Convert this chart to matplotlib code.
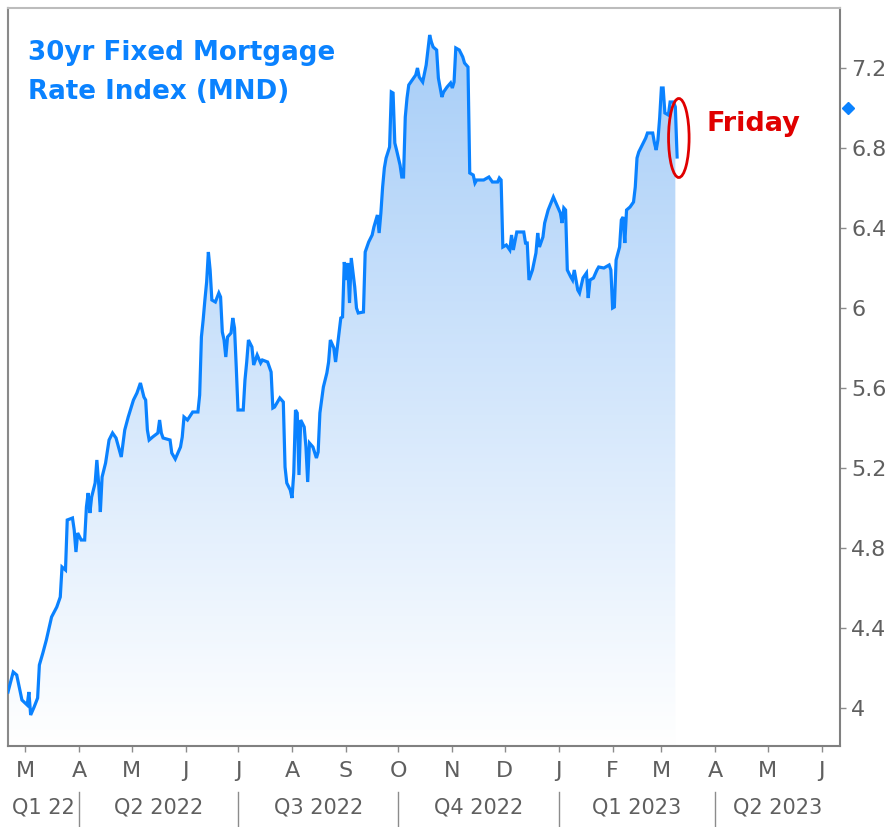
import numpy as np
import pandas as pd
import matplotlib
matplotlib.use("Agg")
import matplotlib.pyplot as plt
import matplotlib.dates as mdates
import matplotlib.transforms as mtransforms
from matplotlib.patches import Polygon, Ellipse
from matplotlib.colors import LinearSegmentedColormap

# daily MND 30yr fixed rate
dates = [
    "2022-02-19", "2022-02-22", "2022-02-24", "2022-02-27", "2022-03-02", "2022-03-03", "2022-03-04",
    "2022-03-06", "2022-03-08", "2022-03-09", "2022-03-11", "2022-03-13", "2022-03-16", "2022-03-19",
    "2022-03-21", "2022-03-22", "2022-03-24", "2022-03-25", "2022-03-28", "2022-03-29", "2022-03-30",
    "2022-03-31", "2022-04-02", "2022-04-04", "2022-04-05", "2022-04-06", "2022-04-07", "2022-04-08",
    "2022-04-10", "2022-04-11", "2022-04-12", "2022-04-13", "2022-04-14", "2022-04-16", "2022-04-18",
    "2022-04-20", "2022-04-22", "2022-04-25", "2022-04-27", "2022-04-29", "2022-05-02", "2022-05-04",
    "2022-05-06", "2022-05-08", "2022-05-09", "2022-05-10", "2022-05-11", "2022-05-13", "2022-05-16",
    "2022-05-17", "2022-05-18", "2022-05-19", "2022-05-23", "2022-05-24", "2022-05-26", "2022-05-29",
    "2022-05-30", "2022-05-31", "2022-06-02", "2022-06-05", "2022-06-08", "2022-06-09", "2022-06-10",
    "2022-06-11", "2022-06-12", "2022-06-13", "2022-06-14", "2022-06-15", "2022-06-16", "2022-06-18",
    "2022-06-20", "2022-06-21", "2022-06-22", "2022-06-23", "2022-06-24", "2022-06-25", "2022-06-27",
    "2022-06-28", "2022-06-29", "2022-06-30", "2022-07-01", "2022-07-04", "2022-07-05", "2022-07-06",
    "2022-07-07", "2022-07-09", "2022-07-10", "2022-07-12", "2022-07-14", "2022-07-15", "2022-07-18",
    "2022-07-20", "2022-07-21", "2022-07-22", "2022-07-25", "2022-07-27", "2022-07-28", "2022-07-29",
    "2022-07-31", "2022-08-01", "2022-08-02", "2022-08-03", "2022-08-04", "2022-08-05", "2022-08-06",
    "2022-08-08", "2022-08-09", "2022-08-10", "2022-08-11", "2022-08-13", "2022-08-15", "2022-08-16",
    "2022-08-17", "2022-08-18", "2022-08-19", "2022-08-21", "2022-08-22", "2022-08-23", "2022-08-25",
    "2022-08-26", "2022-08-28", "2022-08-29", "2022-08-30", "2022-08-31", "2022-09-01", "2022-09-02",
    "2022-09-03", "2022-09-04", "2022-09-06", "2022-09-07", "2022-09-08", "2022-09-11", "2022-09-12",
    "2022-09-14", "2022-09-16", "2022-09-17", "2022-09-19", "2022-09-20", "2022-09-21", "2022-09-22",
    "2022-09-23", "2022-09-24", "2022-09-26", "2022-09-27", "2022-09-28", "2022-09-29", "2022-09-30",
    "2022-10-02", "2022-10-03", "2022-10-04", "2022-10-05", "2022-10-06", "2022-10-07", "2022-10-09",
    "2022-10-11", "2022-10-12", "2022-10-13", "2022-10-15", "2022-10-17", "2022-10-19", "2022-10-20",
    "2022-10-21", "2022-10-23", "2022-10-24", "2022-10-26", "2022-10-27", "2022-10-29", "2022-10-31",
    "2022-11-01", "2022-11-02", "2022-11-03", "2022-11-05", "2022-11-07", "2022-11-08", "2022-11-10",
    "2022-11-11", "2022-11-13", "2022-11-14", "2022-11-15", "2022-11-19", "2022-11-22", "2022-11-24",
    "2022-11-27", "2022-11-28", "2022-11-29", "2022-11-30", "2022-12-02", "2022-12-04", "2022-12-05",
    "2022-12-06", "2022-12-08", "2022-12-12", "2022-12-13", "2022-12-14", "2022-12-15", "2022-12-17",
    "2022-12-19", "2022-12-20", "2022-12-21", "2022-12-23", "2022-12-24", "2022-12-26", "2022-12-29",
    "2022-12-31", "2023-01-02", "2023-01-03", "2023-01-04", "2023-01-05", "2023-01-06", "2023-01-08",
    "2023-01-09", "2023-01-10", "2023-01-12", "2023-01-13", "2023-01-15", "2023-01-17", "2023-01-18",
    "2023-01-19", "2023-01-21", "2023-01-23", "2023-01-24", "2023-01-27", "2023-01-30", "2023-01-31",
    "2023-02-01", "2023-02-02", "2023-02-03", "2023-02-05", "2023-02-06", "2023-02-07", "2023-02-08",
    "2023-02-09", "2023-02-11", "2023-02-13", "2023-02-14", "2023-02-15", "2023-02-16", "2023-02-18",
    "2023-02-20", "2023-02-21", "2023-02-24", "2023-02-25", "2023-02-26", "2023-02-27", "2023-02-28",
    "2023-03-01", "2023-03-02", "2023-03-03", "2023-03-05", "2023-03-06", "2023-03-08", "2023-03-09",
    "2023-03-10",
]
rates = [
    4.08, 4.18, 4.165, 4.04, 4.015, 4.08, 3.965,
    4.005, 4.05, 4.215, 4.275, 4.34, 4.455, 4.505,
    4.555, 4.705, 4.69, 4.94, 4.95, 4.89, 4.78,
    4.875, 4.84, 4.84, 5.005, 5.075, 4.975, 5.055,
    5.125, 5.24, 5.125, 4.98, 5.155, 5.225, 5.34,
    5.375, 5.35, 5.255, 5.39, 5.455, 5.54, 5.575,
    5.625, 5.555, 5.54, 5.39, 5.34, 5.355, 5.375,
    5.44, 5.375, 5.35, 5.34, 5.275, 5.245, 5.305,
    5.355, 5.455, 5.44, 5.48, 5.48, 5.565, 5.855,
    5.94, 6.04, 6.13, 6.28, 6.19, 6.04, 6.03,
    6.075, 6.055, 5.88, 5.84, 5.755, 5.855, 5.875,
    5.95, 5.9, 5.705, 5.49, 5.49, 5.64, 5.73,
    5.84, 5.805, 5.715, 5.765, 5.725, 5.74, 5.73,
    5.68, 5.5, 5.505, 5.55, 5.53, 5.205, 5.125,
    5.09, 5.05, 5.175, 5.49, 5.475, 5.165, 5.44,
    5.405, 5.305, 5.13, 5.325, 5.305, 5.25, 5.28,
    5.475, 5.54, 5.605, 5.675, 5.73, 5.84, 5.8,
    5.73, 5.875, 5.95, 5.955, 6.23, 6.14, 6.225,
    6.025, 6.25, 6.105, 6.0, 5.975, 5.98, 6.28,
    6.33, 6.365, 6.405, 6.465, 6.375, 6.475, 6.605,
    6.7, 6.75, 6.805, 7.08, 7.075, 6.825, 6.79,
    6.715, 6.655, 6.655, 6.955, 7.05, 7.115, 7.14,
    7.165, 7.2, 7.155, 7.13, 7.215, 7.365, 7.33,
    7.305, 7.29, 7.15, 7.055, 7.08, 7.105, 7.125,
    7.1, 7.13, 7.3, 7.29, 7.255, 7.225, 7.205,
    6.675, 6.665, 6.625, 6.64, 6.64, 6.655, 6.63,
    6.63, 6.65, 6.64, 6.305, 6.315, 6.29, 6.365,
    6.29, 6.38, 6.38, 6.325, 6.325, 6.14, 6.19,
    6.275, 6.375, 6.305, 6.355, 6.425, 6.49, 6.555,
    6.515, 6.475, 6.425, 6.5, 6.49, 6.19, 6.155,
    6.14, 6.19, 6.09, 6.075, 6.15, 6.175, 6.05,
    6.14, 6.15, 6.19, 6.205, 6.2, 6.215, 6.19,
    6.0, 6.005, 6.24, 6.305, 6.44, 6.455, 6.325,
    6.49, 6.505, 6.53, 6.605, 6.75, 6.78, 6.815,
    6.85, 6.875, 6.875, 6.825, 6.79, 6.84, 6.95,
    7.1, 7.1, 6.975, 6.965, 7.03, 7.03, 7.005,
    6.755,
]

y_ticks = [4, 4.4, 4.8, 5.2, 5.6, 6, 6.4, 6.8, 7.2]
quarter_labels = ["Q1 22", "Q2 2022", "Q3 2022", "Q4 2022", "Q1 2023", "Q2 2023"]
quarter_starts = ["2022-01-01", "2022-04-01", "2022-07-01", "2022-10-01", "2023-01-01", "2023-04-01", "2023-07-01"]

blue = "#0a82ff"
red = "#e00000"
gray = "#5f5f5f"

x = mdates.date2num(pd.to_datetime(dates))
y = np.array(rates)
xmin = mdates.date2num(pd.Timestamp("2022-02-19"))
xmax = mdates.date2num(pd.Timestamp("2023-06-11 12:00"))
ymin, ymax = 3.81, 7.5

fig = plt.figure(figsize=(8.93, 8.27), dpi=100)
ax = fig.add_axes([8 / 893, 1 - 746 / 827, 832 / 893, 738 / 827])

# gradient fill under the line (stops before the Friday drop)
xf, yf = x[:-1], y[:-1]
verts = np.column_stack([np.r_[xf, xf[-1], xf[0]], np.r_[yf, ymin, ymin]])
poly = Polygon(verts, closed=True, facecolor="none", edgecolor="none")
ax.add_patch(poly)
cmap = LinearSegmentedColormap.from_list("fade", ["#ffffff", "#a6cdf8"])
grad = np.linspace(0, 1, 256).reshape(-1, 1)
im = ax.imshow(grad, extent=[xmin, xmax, ymin, 7.4], origin="lower", aspect="auto",
               cmap=cmap, zorder=1, interpolation="bilinear")
im.set_clip_path(poly)

ax.plot(x, y, color=blue, lw=2.3, zorder=3, solid_joinstyle="miter")

ax.set_xlim(xmin, xmax)
ax.set_ylim(ymin, ymax)

# y axis on the right
ax.yaxis.tick_right()
ax.set_yticks(y_ticks)
ax.set_yticklabels([f"{v:g}" for v in y_ticks])
ax.tick_params(axis="y", direction="out", length=4, width=1, color="#8c8c8c",
               labelsize=16, labelcolor=gray, pad=4)

months = pd.date_range("2022-03-01", "2023-06-01", freq="MS")
ax.set_xticks(mdates.date2num(months))
ax.set_xticklabels([m.strftime("%b")[0] for m in months])
ax.tick_params(axis="x", direction="out", length=4, width=1, color="#8c8c8c",
               labelsize=16, labelcolor=gray, pad=7)

for side, col in [("left", "#8a8a8a"), ("right", "#808080"), ("bottom", "#808080"), ("top", "#bcbcbc")]:
    ax.spines[side].set_color(col)
    ax.spines[side].set_linewidth(1.5)

# quarter row
trans = mtransforms.blended_transform_factory(ax.transData, ax.transAxes)
qs = mdates.date2num(pd.to_datetime(quarter_starts))
for i, lab in enumerate(quarter_labels):
    a, b = max(qs[i], xmin), min(qs[i + 1], xmax)
    ax.text((a + b) / 2, -0.083, lab, transform=trans, ha="center", va="center",
            fontsize=15, color=gray)
for q in qs[1:-1]:
    ax.plot([q, q], [-0.062, -0.11], transform=trans, color="#8c8c8c", lw=1, clip_on=False)

# marker beside the axis
ytrans = mtransforms.blended_transform_factory(ax.transAxes, ax.transData)
ax.plot([1.0096], [7.0], transform=ytrans, marker="D", ms=6.5, color=blue, clip_on=False, zorder=5)

# Friday callout
cx = mdates.date2num(pd.Timestamp("2023-03-11"))
ax.add_patch(Ellipse((cx, 6.85), width=11.8, height=0.395, fill=False, edgecolor=red, lw=2, zorder=4))
ax.text(0.840, 0.843, "Friday", transform=ax.transAxes, color=red, fontsize=19.5,
        fontweight="bold", va="center", ha="left")

ax.text(0.024, 0.956, "30yr Fixed Mortgage\nRate Index (MND)", transform=ax.transAxes,
        color=blue, fontsize=18.8, fontweight="bold", va="top", ha="left", linespacing=1.62)

fig.savefig("out.png", dpi=100)
